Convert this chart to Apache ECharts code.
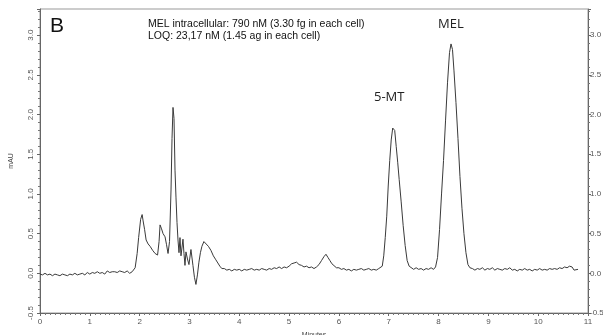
<!DOCTYPE html>
<html>
<head>
<meta charset="utf-8">
<script src="https://cdn.jsdelivr.net/npm/echarts@6/dist/echarts.min.js"></script>
<style>
  html, body { margin: 0; padding: 0; background: #fff; }
  #chart { width: 603px; height: 335px; }
</style>
</head>
<body>
<div id="chart"></div>
<script>
// chromatogram trace, [minutes, mAU]
const leadBaseline = [
  [0.00, -0.01], [0.05, -0.02], [0.10, 0.00], [0.15, -0.02], [0.20, -0.01], [0.25, -0.03],
  [0.30, -0.01], [0.35, -0.02], [0.40, -0.03], [0.45, -0.01], [0.50, -0.02], [0.55, -0.03],
  [0.60, -0.01], [0.65, -0.02], [0.70, 0.00], [0.75, -0.02], [0.80, -0.01], [0.85, 0.00],
  [0.90, -0.02], [0.95, 0.01], [1.00, -0.01], [1.05, 0.01], [1.10, 0.00], [1.15, 0.02],
  [1.20, 0.00], [1.25, 0.01], [1.30, -0.01], [1.35, 0.03], [1.40, 0.01], [1.45, 0.02],
  [1.50, 0.02], [1.55, 0.01], [1.60, 0.03], [1.65, 0.02], [1.70, 0.01], [1.75, 0.03],
  [1.80, 0.00], [1.85, 0.02], [1.89, 0.03]
];
const solventFront = [
  [1.91, 0.07], [1.95, 0.25], [1.98, 0.45], [2.02, 0.68], [2.05, 0.74], [2.07, 0.66],
  [2.10, 0.55], [2.13, 0.42], [2.17, 0.37], [2.21, 0.34], [2.26, 0.29], [2.31, 0.25],
  [2.36, 0.23], [2.39, 0.40], [2.41, 0.61], [2.44, 0.56], [2.47, 0.50], [2.51, 0.46],
  [2.54, 0.36], [2.57, 0.25], [2.60, 0.40], [2.63, 1.05], [2.65, 1.70], [2.67, 2.09],
  [2.69, 1.95], [2.71, 1.30], [2.73, 0.95], [2.75, 0.64], [2.77, 0.42], [2.79, 0.26],
  [2.81, 0.45], [2.83, 0.22], [2.85, 0.20], [2.87, 0.43], [2.89, 0.25], [2.91, 0.10],
  [2.93, 0.27], [2.96, 0.18], [2.99, 0.11], [3.03, 0.30], [3.07, 0.10], [3.10, -0.05],
  [3.13, -0.14], [3.16, -0.02], [3.19, 0.14], [3.22, 0.26], [3.25, 0.34], [3.29, 0.40],
  [3.33, 0.38], [3.38, 0.34], [3.43, 0.29], [3.48, 0.22], [3.53, 0.17], [3.57, 0.13],
  [3.61, 0.09], [3.65, 0.06]
];
const midBaseline = [
  [3.70, 0.06], [3.75, 0.04], [3.80, 0.05], [3.85, 0.03], [3.90, 0.05], [3.95, 0.04],
  [4.00, 0.05], [4.05, 0.03], [4.10, 0.05], [4.15, 0.04], [4.20, 0.05], [4.25, 0.06],
  [4.30, 0.04], [4.35, 0.05], [4.40, 0.04], [4.45, 0.06], [4.50, 0.05], [4.55, 0.04],
  [4.60, 0.06], [4.65, 0.05], [4.70, 0.07], [4.75, 0.06], [4.80, 0.08], [4.85, 0.06],
  [4.90, 0.08], [4.95, 0.07], [5.00, 0.09], [5.05, 0.12], [5.10, 0.13], [5.15, 0.14],
  [5.20, 0.11], [5.25, 0.10], [5.30, 0.08], [5.35, 0.09], [5.40, 0.07], [5.45, 0.08],
  [5.50, 0.06], [5.55, 0.08], [5.60, 0.11], [5.65, 0.16], [5.70, 0.21], [5.74, 0.24],
  [5.78, 0.20], [5.82, 0.16], [5.86, 0.12], [5.90, 0.10], [5.95, 0.07], [6.00, 0.07],
  [6.05, 0.05], [6.10, 0.06], [6.15, 0.04], [6.20, 0.05], [6.25, 0.03], [6.30, 0.05],
  [6.35, 0.04], [6.40, 0.05], [6.45, 0.06], [6.50, 0.04], [6.55, 0.05], [6.60, 0.06],
  [6.65, 0.04], [6.70, 0.05], [6.75, 0.04], [6.80, 0.06], [6.84, 0.07]
];
const peak5MT = [
  [6.87, 0.09], [6.90, 0.22], [6.93, 0.45], [6.96, 0.72], [6.99, 1.10], [7.02, 1.42],
  [7.05, 1.68], [7.08, 1.83], [7.10, 1.85], [7.12, 1.80], [7.15, 1.60], [7.18, 1.40],
  [7.21, 1.18], [7.25, 0.90], [7.29, 0.60], [7.33, 0.35], [7.37, 0.16], [7.41, 0.09],
  [7.45, 0.07]
];
const betweenPeaks = [
  [7.50, 0.05], [7.55, 0.07], [7.60, 0.05], [7.65, 0.06], [7.70, 0.04], [7.75, 0.06],
  [7.80, 0.05], [7.85, 0.07], [7.90, 0.05]
];
const peakMEL = [
  [7.94, 0.08], [7.98, 0.20], [8.02, 0.55], [8.06, 1.00], [8.10, 1.42], [8.14, 1.92],
  [8.18, 2.40], [8.22, 2.78], [8.25, 2.89], [8.28, 2.82], [8.31, 2.55], [8.35, 2.15],
  [8.39, 1.70], [8.43, 1.22], [8.47, 0.82], [8.51, 0.50], [8.55, 0.26], [8.59, 0.11],
  [8.63, 0.07]
];
const tailBaseline = [
  [8.68, 0.06], [8.73, 0.04], [8.78, 0.06], [8.83, 0.05], [8.88, 0.07], [8.93, 0.04],
  [8.98, 0.06], [9.03, 0.05], [9.08, 0.07], [9.13, 0.04], [9.18, 0.06], [9.23, 0.05],
  [9.28, 0.04], [9.33, 0.06], [9.38, 0.05], [9.43, 0.07], [9.48, 0.04], [9.53, 0.05],
  [9.58, 0.03], [9.63, 0.05], [9.68, 0.04], [9.73, 0.06], [9.78, 0.04], [9.83, 0.05],
  [9.88, 0.03], [9.93, 0.05], [9.98, 0.04], [10.03, 0.06], [10.08, 0.04], [10.13, 0.05],
  [10.18, 0.04], [10.23, 0.06], [10.28, 0.05], [10.33, 0.06], [10.38, 0.05], [10.43, 0.07],
  [10.48, 0.06], [10.53, 0.08], [10.58, 0.07], [10.63, 0.09], [10.68, 0.08], [10.72, 0.04],
  [10.76, 0.06], [10.80, 0.05]
];

const xTicks = { min: 0, max: 11, step: 1 };
const yTicks = { min: -0.5, max: 3.33, step: 0.5 };

const trace = [].concat(leadBaseline, solventFront, midBaseline, peak5MT,
  betweenPeaks, peakMEL, tailBaseline);

const chart = echarts.init(document.getElementById("chart"));

const labelFont = "Liberation Sans, Arial, sans-serif";

const yAxisBase = {
  type: "value",
  min: yTicks.min,
  max: yTicks.max,
  interval: yTicks.step,
  splitLine: { show: false },
  axisLine: { show: true, lineStyle: { color: "#666", width: 1 } },
  axisTick: { show: true, inside: false, length: 3, lineStyle: { color: "#666" } },
  minorTick: { show: true, splitNumber: 5, length: 2, lineStyle: { color: "#777" } },
};

chart.setOption({
  animation: false,
  backgroundColor: "#fff",
  grid: {
    left: 40, right: 15, top: 9, bottom: 22,
    outerBoundsMode: "none",
    containLabel: false,
    show: true, borderColor: "#999", borderWidth: 1,
  },
  xAxis: {
    type: "value",
    min: xTicks.min,
    max: xTicks.max,
    interval: xTicks.step,
    name: "Minutes",
    nameLocation: "middle",
    nameGap: 19,
    nameTextStyle: { fontSize: 7, color: "#444", fontFamily: labelFont },
    splitLine: { show: false },
    axisLine: { show: true, onZero: false, lineStyle: { color: "#666", width: 1 } },
    axisTick: { show: true, inside: false, length: 3, lineStyle: { color: "#666" } },
    minorTick: { show: true, splitNumber: 10, length: 2, lineStyle: { color: "#777" } },
    axisLabel: { fontSize: 8, color: "#555", margin: 5, fontFamily: labelFont },
  },
  yAxis: [
    Object.assign({}, yAxisBase, {
      position: "left",
      name: "mAU",
      nameLocation: "middle",
      nameGap: 25,
      nameRotate: 90,
      nameTextStyle: { fontSize: 7, color: "#444", fontFamily: labelFont },
      axisLabel: {
        rotate: 90, fontSize: 8, color: "#555", margin: 5, fontFamily: labelFont,
        showMaxLabel: false,
        formatter: (v) => v.toFixed(1),
      },
    }),
    Object.assign({}, yAxisBase, {
      position: "right",
      axisLabel: {
        fontSize: 8, color: "#555", margin: 2, fontFamily: labelFont,
        showMaxLabel: false,
        formatter: (v) => v.toFixed(1),
      },
    }),
  ],
  graphic: [
    {
      type: "text", left: 50, top: 16,
      style: { text: "B", fontSize: 21, fill: "#111", fontFamily: labelFont },
    },
    {
      type: "text", left: 148, top: 18,
      style: {
        text: "MEL intracellular: 790 nM (3.30 fg in each cell)\nLOQ: 23,17 nM (1.45 ag in each cell)",
        fontSize: 10.5, lineHeight: 12, fill: "#111", fontFamily: labelFont,
      },
    },
    {
      type: "text", left: 374, top: 91,
      style: { text: "5-MT", fontSize: 13, fill: "#222", fontFamily: "Open Sans, sans-serif" },
    },
    {
      type: "text", left: 438, top: 18,
      style: { text: "MEL", fontSize: 13, fill: "#222", fontFamily: "Open Sans, sans-serif" },
    },
  ],
  series: [
    {
      type: "line",
      data: trace,
      showSymbol: false,
      symbol: "none",
      lineStyle: { color: "#3a3a3a", width: 1 },
    },
  ],
});
</script>
</body>
</html>
